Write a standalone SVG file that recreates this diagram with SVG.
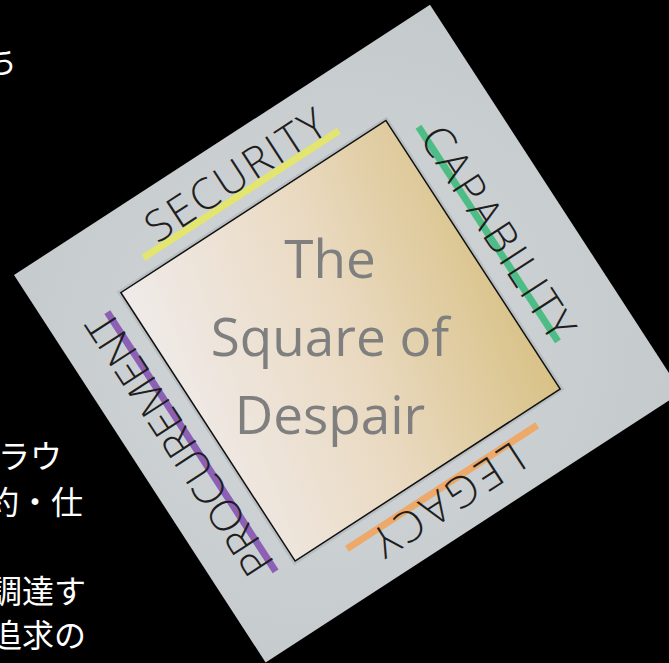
<svg xmlns="http://www.w3.org/2000/svg" width="669" height="663" viewBox="0 0 669 663">
<defs>
  <linearGradient id="sqFill" gradientUnits="userSpaceOnUse" x1="40" y1="200" x2="440" y2="290">
    <stop offset="0" stop-color="#f0ecec"/>
    <stop offset="0.5" stop-color="#eadac2"/>
    <stop offset="1" stop-color="#d6bf80"/>
  </linearGradient>
  <radialGradient id="cardFill" cx="0.45" cy="0.5" r="0.75">
    <stop offset="0" stop-color="#d4d8da"/>
    <stop offset="1" stop-color="#c4c9cc"/>
  </radialGradient>
</defs>
<style>
  .jp{font-family:"Noto Sans CJK JP","Noto Sans CJK SC",sans-serif;font-size:32px;fill:#ffffff}
  .lbl{font-family:"Open Sans","Lato",sans-serif;font-weight:300;font-size:43px;fill:#1e1e1e;text-anchor:middle}
  .bar{stroke-width:7;fill:none}
  .title{font-family:"Open Sans","Noto Sans",sans-serif;font-size:53px;fill:#7f7f7f;text-anchor:middle}
</style>
<rect width="669" height="663" fill="#000000"/>
<g id="slide-text">
  <text class="jp" x="-15" y="73">ち</text>
  <text class="jp" x="-2" y="468">ラウ</text>
  <text class="jp" x="-13" y="514">約・仕</text>
  <text class="jp" x="-10" y="603">調達す</text>
  <text class="jp" x="-10" y="647">追求の</text>
</g>
<g id="card" transform="translate(14,275) rotate(-33)">
  <rect id="card-bg" x="0" y="0" width="496" height="462" fill="url(#cardFill)"/>
  <g id="square">
    <rect x="80" y="73" width="316" height="320" fill="none" stroke="#a9afb2" stroke-width="6" opacity="0.55"/>
    <rect x="80" y="73" width="316" height="320" fill="url(#sqFill)" stroke="#111111" stroke-width="1.5"/>
  </g>
  <g id="security">
    <line class="bar" x1="118" y1="56" x2="351" y2="56" stroke="#e3e56e"/>
    <text class="lbl" x="240" y="52" textLength="206" lengthAdjust="spacing">SECURITY</text>
  </g>
  <g id="capability">
    <line class="bar" x1="420" y1="96" x2="420" y2="352" stroke="#4dbd85"/>
    <text class="lbl" transform="translate(414,228) rotate(90)" textLength="245" lengthAdjust="spacing">CAPABILITY</text>
  </g>
  <g id="legacy">
    <line class="bar" x1="130" y1="411" x2="357" y2="411" stroke="#eda96a"/>
    <text class="lbl" transform="translate(242,410) rotate(180)" textLength="172" lengthAdjust="spacing">LEGACY</text>
  </g>
  <g id="procurement">
    <line class="bar" x1="58" y1="82" x2="58" y2="391" stroke="#8b60b5"/>
    <text class="lbl" transform="translate(62,232) rotate(-90)" textLength="304" lengthAdjust="spacing">PROCUREMENT</text>
  </g>
</g>
<g id="title">
  <text class="title" x="330" y="278">The</text>
  <text class="title" x="330" y="356">Square of</text>
  <text class="title" x="330" y="434">Despair</text>
</g>
</svg>
